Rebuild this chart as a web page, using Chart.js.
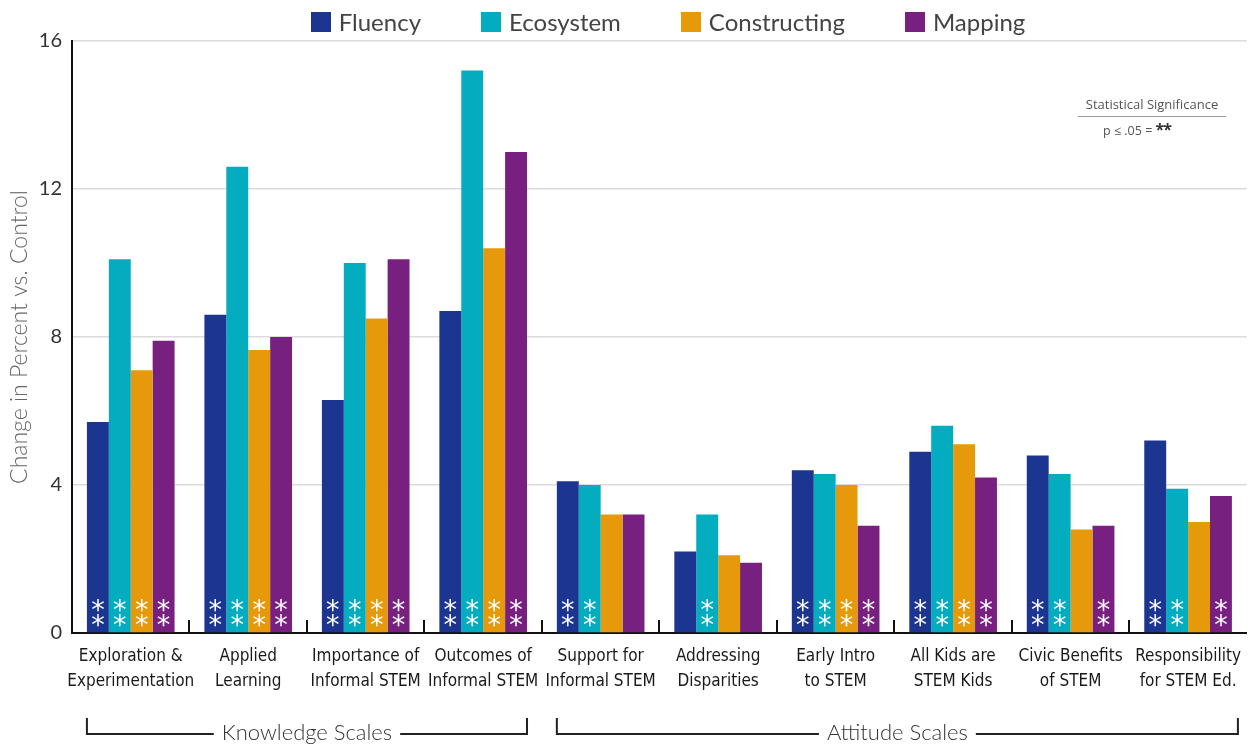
<!DOCTYPE html>
<html>
<head>
<meta charset="utf-8">
<script src="https://cdn.jsdelivr.net/npm/chart.js@4/dist/chart.umd.min.js"></script>
<style>
html,body{margin:0;padding:0;background:#fff;}
#wrap{position:relative;width:1253px;height:748px;overflow:hidden;}
#legend{position:absolute;top:7px;left:0;width:1336px;display:flex;justify-content:center;font-family:Lato,"Open Sans",sans-serif;font-size:24px;color:#444;}
#legend .item{display:flex;align-items:center;margin:0 30px;}
#legend .box{display:inline-block;width:20px;height:20px;margin-right:8px;}
#sig{position:absolute;left:1078px;top:95px;width:148px;font-family:"Open Sans",Lato,sans-serif;color:#555;text-align:center;}
#sig .t{font-size:13px;padding-bottom:3px;border-bottom:1.5px solid #999;}
#sig .p{font-size:12.5px;padding-top:1px;margin-left:-30px;}
#sig .p b{color:#333;font-size:16px;letter-spacing:-1px;}
</style>
</head>
<body>
<div id="wrap">
<canvas id="c" width="1253" height="748"></canvas>
<div id="legend"></div>
<div id="sig"><div class="t">Statistical Significance</div><div class="p">p ≤ .05 = <b>**</b></div></div>
</div>
<script>
// ---- data ----
const categories = [
  ['Exploration &','Experimentation'],
  ['Applied','Learning'],
  ['Importance of','Informal STEM'],
  ['Outcomes of','Informal STEM'],
  ['Support for','Informal STEM'],
  ['Addressing','Disparities'],
  ['Early Intro','to STEM'],
  ['All Kids are','STEM Kids'],
  ['Civic Benefits','of STEM'],
  ['Responsibility','for STEM Ed.']
];
const seriesNames = ['Fluency','Ecosystem','Constructing','Mapping'];
const fluency      = [5.7, 8.6, 6.3, 8.7, 4.1, 2.2, 4.4, 4.9, 4.8, 5.2];
const ecosystem    = [10.1, 12.6, 10.0, 15.2, 4.0, 3.2, 4.3, 5.6, 4.3, 3.9];
const constructing = [7.1, 7.65, 8.5, 10.4, 3.2, 2.1, 4.0, 5.1, 2.8, 3.0];
const mapping      = [7.9, 8.0, 10.1, 13.0, 3.2, 1.9, 2.9, 4.2, 2.9, 3.7];
// significance (p <= .05) per series, per category
const sigFluency      = [1,1,1,1,1,0,1,1,1,1];
const sigEcosystem    = [1,1,1,1,1,1,1,1,1,1];
const sigConstructing = [1,1,1,1,0,0,1,1,0,0];
const sigMapping      = [1,1,1,1,0,0,1,1,1,1];
const yTicks = [0, 4, 8, 12, 16];
const groupLabels = ['Knowledge Scales','Attitude Scales'];
const groupStart  = [0, 4];
const groupEnd    = [3, 9];

const colors = ['#1b3591','#03adbf','#e6990a','#782080'];
const seriesValues = [fluency, ecosystem, constructing, mapping];
const significance = [sigFluency, sigEcosystem, sigConstructing, sigMapping];

// HTML legend
const lg = document.getElementById('legend');
seriesNames.forEach((n,i)=>{
  const it = document.createElement('div'); it.className='item';
  const b = document.createElement('span'); b.className='box'; b.style.background=colors[i];
  const t = document.createElement('span'); t.textContent=n;
  it.appendChild(b); it.appendChild(t); lg.appendChild(it);
});

const overlay = {
  id:'overlay',
  afterDatasetsDraw(chart){
    const ctx = chart.ctx, y = chart.scales.y;
    const base = y.getPixelForValue(0);
    ctx.save();
    ctx.fillStyle = '#fff';
    ctx.font = '27px "DejaVu Sans"';
    ctx.textAlign = 'center';
    ctx.textBaseline = 'alphabetic';
    const m = ctx.measureText('*');
    const shift = (m.actualBoundingBoxAscent - m.actualBoundingBoxDescent)/2;
    significance.forEach((sig,d)=>{
      const meta = chart.getDatasetMeta(d);
      sig.forEach((s,i)=>{
        if(!s) return;
        const bar = meta.data[i];
        [28,13].forEach(off=>{ ctx.fillText('*', bar.x, base - off + shift); });
      });
    });
    ctx.restore();
  },
  afterDraw(chart){
    const ctx = chart.ctx, x = chart.scales.x, y = chart.scales.y;
    const base = y.getPixelForValue(0);
    ctx.save();
    ctx.strokeStyle = '#111'; ctx.lineWidth = 2;
    for(let i=1;i<categories.length;i++){
      const bx = Math.round((x.getPixelForTick(i-1)+x.getPixelForTick(i))/2);
      ctx.beginPath(); ctx.moveTo(bx, base); ctx.lineTo(bx, base-13); ctx.stroke();
    }
    const m0 = chart.getDatasetMeta(0), m3 = chart.getDatasetMeta(seriesNames.length-1);
    const yb = 734, yt = 718;
    ctx.font = '300 22px Lato';
    ctx.fillStyle = '#333';
    ctx.textAlign = 'center'; ctx.textBaseline = 'middle';
    groupLabels.forEach((g,k)=>{
      const b0 = m0.data[groupStart[k]], b1 = m3.data[groupEnd[k]];
      const l = b0.x - b0.width/2, r = b1.x + b1.width/2 + (k===1?6:0);
      const c = (l+r)/2;
      const w = ctx.measureText(g).width/2 + 8;
      ctx.strokeStyle = '#222'; ctx.lineWidth = 2;
      ctx.beginPath();
      ctx.moveTo(l, yt); ctx.lineTo(l, yb); ctx.lineTo(c-w, yb);
      ctx.moveTo(c+w, yb); ctx.lineTo(r, yb); ctx.lineTo(r, yt);
      ctx.stroke();
      ctx.fillText(g, c, yb-1);
    });
    ctx.restore();
  }
};

new Chart(document.getElementById('c'), {
  type:'bar',
  data:{
    labels: categories,
    datasets: seriesNames.map((n,i)=>({
      label:n, data:seriesValues[i], backgroundColor:colors[i], borderWidth:0,
      categoryPercentage:0.746, barPercentage:1.0
    }))
  },
  options:{
    responsive:false, animation:false, devicePixelRatio:1,
    layout:{padding:{top:41,bottom:55,left:0,right:1}},
    plugins:{legend:{display:false}, tooltip:{enabled:false}},
    scales:{
      x:{
        z:1,
        grid:{display:false, drawTicks:false},
        border:{display:true, color:'#111', width:2},
        ticks:{padding:12, color:'#1a1a1a', maxRotation:0, autoSkip:false,
          font:{family:'"Liberation Sans Narrow","DejaVu Sans Condensed",sans-serif', size:17, lineHeight:1.42}},
        afterFit(s){ s.height = 60; }
      },
      y:{
        min:0, max:16,
        afterBuildTicks(s){ s.ticks = yTicks.map(v=>({value:v})); },
        grid:{color:'#dcdcdc', lineWidth:1.5, drawTicks:false},
        border:{display:true, color:'#111', width:2},
        ticks:{padding:10, color:'#333', font:{family:'Lato', size:20}},
        title:{display:true, text:'Change in Percent vs. Control', color:'#666',
          font:{family:'Lato', size:23, weight:'300'}, padding:{top:6,bottom:0}},
        afterFit(s){ s.width = 72; }
      }
    }
  },
  plugins:[overlay]
});
</script>
</body>
</html>
